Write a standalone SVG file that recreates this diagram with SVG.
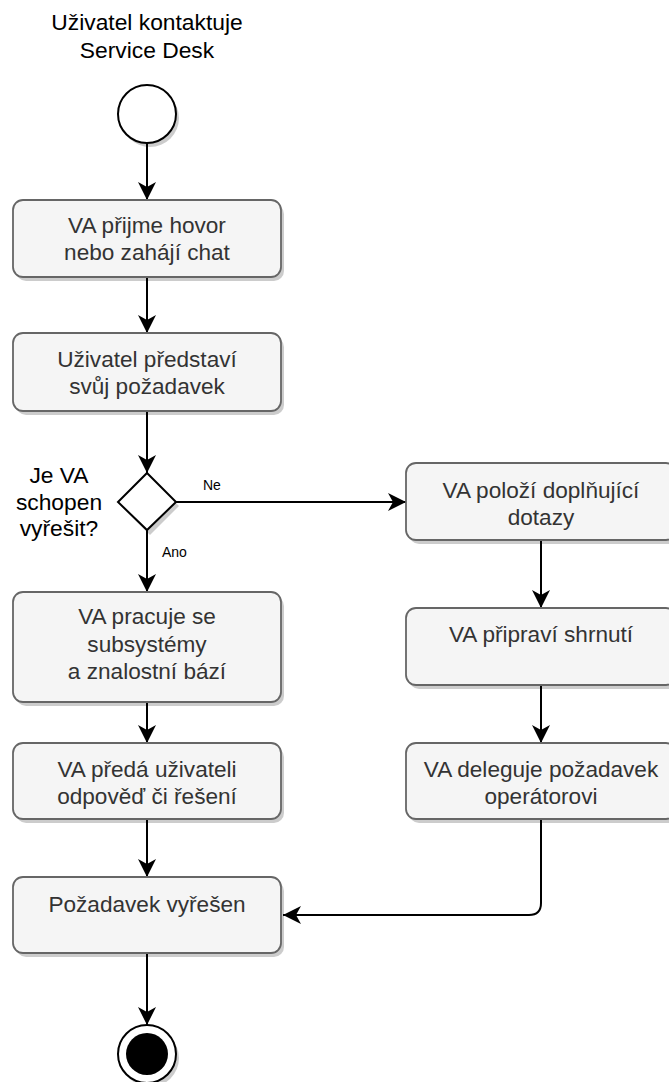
<svg xmlns="http://www.w3.org/2000/svg" width="669" height="1082" viewBox="0 0 669 1082">
  <style>
    .box { fill: #f5f5f5; stroke: #666666; stroke-width: 1.8; }
    .shadow { fill: #000000; fill-opacity: 0.2; }
    .term { fill: #ffffff; stroke: #000000; stroke-width: 2; }
    .txt { font-family: "Liberation Sans", Arial, sans-serif; font-size: 22.6px; fill: #333333; text-anchor: middle; }
    .lbl { font-family: "Liberation Sans", Arial, sans-serif; font-size: 22.8px; fill: #000000; text-anchor: middle; }
    .edge-lbl { font-family: "Liberation Sans", Arial, sans-serif; font-size: 14px; fill: #000000; }
    .edge { fill: none; stroke: #000000; stroke-width: 2; }
  </style>
  <defs>
    <marker id="arrow" viewBox="0 0 18 18" refX="18" refY="9" markerWidth="18" markerHeight="18" markerUnits="userSpaceOnUse" orient="auto">
      <path d="M0,0 L18,9 L0,18 L5,9 Z" fill="#000000"/>
    </marker>
  </defs>

  <rect width="669" height="1082" fill="#ffffff"/>

  <!-- title above the start node -->
  <g id="title">
    <text class="lbl" x="147" y="30">Uživatel kontaktuje</text>
    <text class="lbl" x="147" y="58">Service Desk</text>
  </g>

  <!-- connectors -->
  <g id="connectors">
    <path class="edge" d="M147,143 L147,200" marker-end="url(#arrow)"/>
    <path class="edge" d="M147,277 L147,333" marker-end="url(#arrow)"/>
    <path class="edge" d="M147,411 L147,473" marker-end="url(#arrow)"/>
    <path class="edge" d="M147,530 L147,592" marker-end="url(#arrow)"/>
    <path class="edge" d="M147,702 L147,743" marker-end="url(#arrow)"/>
    <path class="edge" d="M147,819 L147,877" marker-end="url(#arrow)"/>
    <path class="edge" d="M147,953 L147,1025" marker-end="url(#arrow)"/>
    <path class="edge" d="M176,502 L406,502" marker-end="url(#arrow)"/>
    <path class="edge" d="M541,540 L541,608" marker-end="url(#arrow)"/>
    <path class="edge" d="M541,685 L541,743" marker-end="url(#arrow)"/>
    <path class="edge" d="M541,819 L541,903 Q541,915 529,915 L283,915" marker-end="url(#arrow)"/>
    <text class="edge-lbl" x="203" y="490">Ne</text>
    <text class="edge-lbl" x="162" y="557">Ano</text>
  </g>

  <!-- start node -->
  <g id="start">
    <circle class="shadow" cx="150" cy="118" r="29"/>
    <circle class="term" cx="147" cy="114" r="29"/>
  </g>

  <g id="accept">
    <rect class="shadow" x="16" y="204" width="268" height="77" rx="10"/>
    <rect class="box" x="13" y="200" width="268" height="77" rx="10"/>
    <text class="txt" x="147" y="233">VA přijme hovor</text>
    <text class="txt" x="147" y="260">nebo zahájí chat</text>
  </g>

  <g id="request">
    <rect class="shadow" x="16" y="337" width="268" height="78" rx="10"/>
    <rect class="box" x="13" y="333" width="268" height="78" rx="10"/>
    <text class="txt" x="147" y="367">Uživatel představí</text>
    <text class="txt" x="147" y="394">svůj požadavek</text>
  </g>

  <g id="decision">
    <path class="shadow" d="M150,477 L179,506 L150,535 L121,506 Z"/>
    <path class="term" d="M147,473 L176,502 L147,530 L118,502 Z"/>
    <text class="lbl" x="59" y="483">Je VA</text>
    <text class="lbl" x="59" y="510">schopen</text>
    <text class="lbl" x="59" y="536">vyřešit?</text>
  </g>

  <g id="process">
    <rect class="shadow" x="16" y="596" width="268" height="110" rx="10"/>
    <rect class="box" x="13" y="592" width="268" height="110" rx="10"/>
    <text class="txt" x="147" y="624">VA pracuje se</text>
    <text class="txt" x="147" y="651.5">subsystémy</text>
    <text class="txt" x="147" y="679">a znalostní bází</text>
  </g>

  <g id="answer">
    <rect class="shadow" x="16" y="747" width="268" height="76" rx="10"/>
    <rect class="box" x="13" y="743" width="268" height="76" rx="10"/>
    <text class="txt" x="147" y="777">VA předá uživateli</text>
    <text class="txt" x="147" y="804">odpověď či řešení</text>
  </g>

  <g id="resolved">
    <rect class="shadow" x="16" y="881" width="268" height="76" rx="10"/>
    <rect class="box" x="13" y="877" width="268" height="76" rx="10"/>
    <text class="txt" x="147" y="912">Požadavek vyřešen</text>
  </g>

  <g id="questions">
    <rect class="shadow" x="409" y="467" width="270" height="77" rx="10"/>
    <rect class="box" x="406" y="463" width="270" height="77" rx="10"/>
    <text class="txt" x="541" y="498">VA položí doplňující</text>
    <text class="txt" x="541" y="525">dotazy</text>
  </g>

  <g id="summary">
    <rect class="shadow" x="409" y="612" width="270" height="77" rx="10"/>
    <rect class="box" x="406" y="608" width="270" height="77" rx="10"/>
    <text class="txt" x="541" y="642">VA připraví shrnutí</text>
  </g>

  <g id="delegate">
    <rect class="shadow" x="409" y="747" width="270" height="76" rx="10"/>
    <rect class="box" x="406" y="743" width="270" height="76" rx="10"/>
    <text class="txt" x="541" y="777">VA deleguje požadavek</text>
    <text class="txt" x="541" y="804">operátorovi</text>
  </g>

  <!-- end node -->
  <g id="end">
    <circle class="shadow" cx="150" cy="1058" r="29"/>
    <circle class="term" cx="147" cy="1054" r="29"/>
    <circle cx="147" cy="1054" r="21" fill="#000000"/>
  </g>
</svg>
